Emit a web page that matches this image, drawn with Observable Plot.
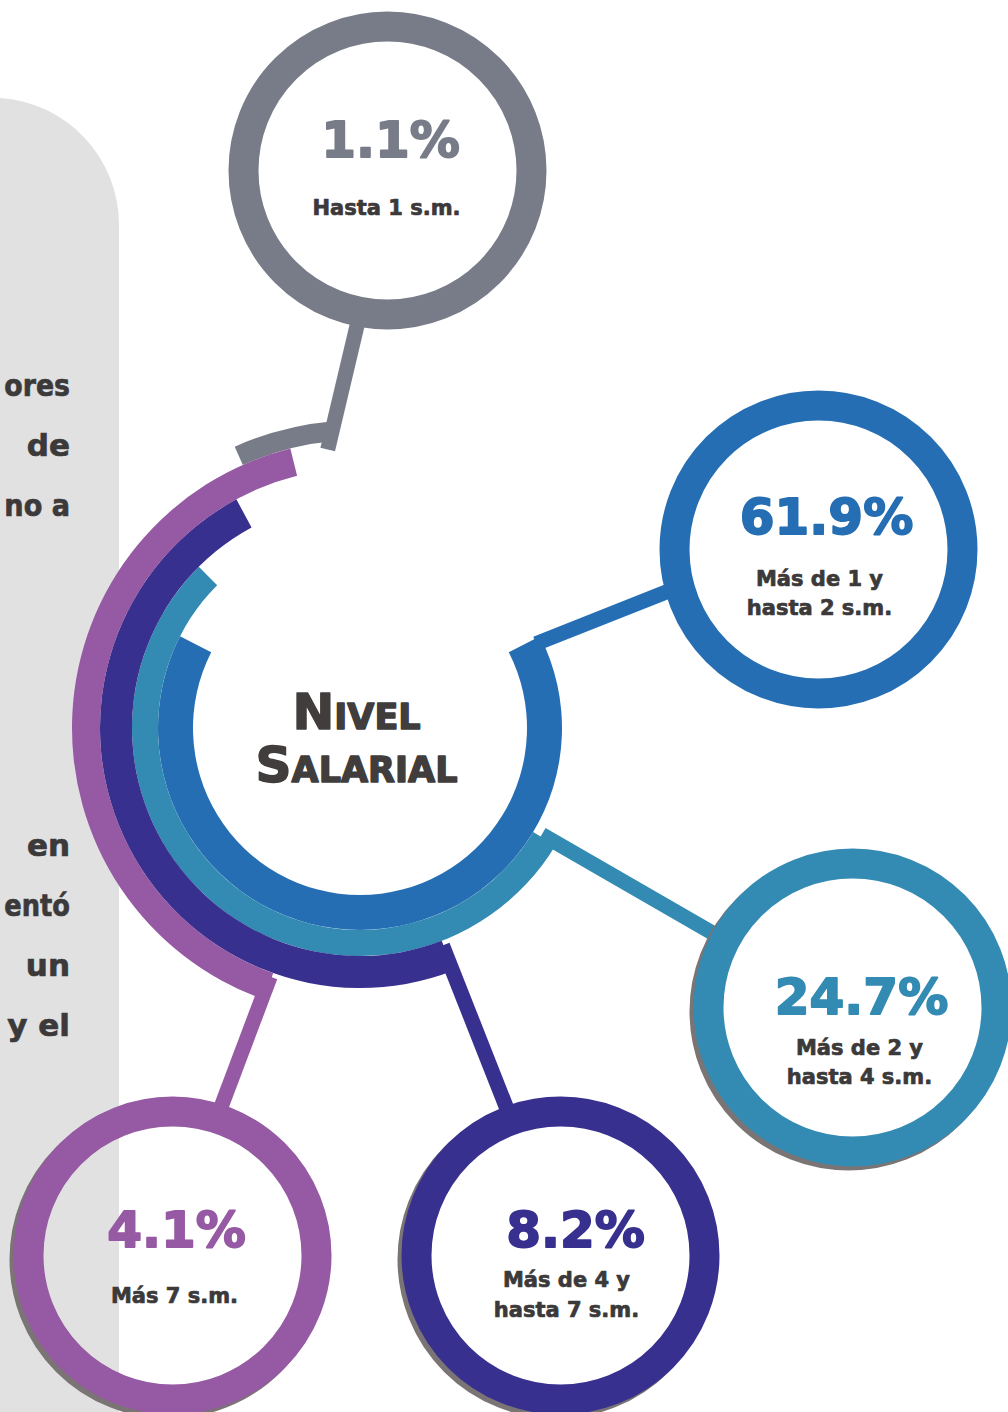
<!DOCTYPE html>
<html><head><meta charset="utf-8">
<script src="https://cdn.jsdelivr.net/npm/d3@7"></script>
<script src="https://cdn.jsdelivr.net/npm/@observablehq/plot@0.6"></script>
<style>
html,body{margin:0;padding:0;background:#fff;}
svg{display:block;}
g[aria-label="valores"] text{letter-spacing:4px;}
g[aria-label="etiquetas"] text{letter-spacing:0.6px;}
g[aria-label="titulo"] text{letter-spacing:3px;}
</style></head><body><div id="chart"></div>
<script>
// ---- data ----
const categorias = ["Hasta 1 s.m.", "Más de 1 y hasta 2 s.m.", "Más de 2 y hasta 4 s.m.", "Más de 4 y hasta 7 s.m.", "Más 7 s.m."];
const valores = [1.1, 61.9, 24.7, 8.2, 4.1];
const etiquetas = [["Hasta 1 s.m."], ["Más de 1 y", "hasta 2 s.m."], ["Más de 2 y", "hasta 4 s.m."], ["Más de 4 y", "hasta 7 s.m."], ["Más 7 s.m."]];
const colores = ["#787c88", "#256eb3", "#338bb3", "#37308f", "#9659a3"];
const titulo = ["Nivel", "Salarial"];
const textoLateral = ["ores", "de", "no a", "en", "entó", "un", "y el"];

// ---- layout (positions / sizes) ----
const W = 1008, H = 1412;
const centro = {x: 360, y: 728};
const anillos = [
  {r0: 288, r1: 308, a0: 336, a1: 355},
  {r0: 167, r1: 202, a0: 63, a1: 297},
  {r0: 202, r1: 228, a0: 121, a1: 315},
  {r0: 228, r1: 260, a0: 159, a1: 331.6},
  {r0: 260, r1: 288, a0: 199.5, a1: 346}
];
const burbujas = [
  {x: 387, y: 170, sombra: false},
  {x: 818, y: 549, sombra: false},
  {x: 852, y: 1007, sombra: true},
  {x: 560, y: 1255, sombra: true},
  {x: 172, y: 1255, sombra: true}
];
const conectores = [
  {a: 353.3, r: 281, b: 191},
  {a: 64.2, r: 195, b: 254.7},
  {a: 120.3, r: 210, b: 297.9},
  {a: 159.3, r: 232, b: 340},
  {a: 200, r: 264, b: 18}
];
const posTexto = [
  {nx: 390, ny: 140, lx: 386, ly: [208]},
  {nx: 826, ny: 517, lx: 819, ly: [579, 608]},
  {nx: 861, ny: 997, lx: 859, ly: [1048, 1077]},
  {nx: 575, ny: 1230, lx: 566, ly: [1280, 1310]},
  {nx: 176, ny: 1230, lx: 174, ly: [1296]}
];
const xLateral = 70;
const yLateral = [385, 445, 505, 845, 905, 965, 1025];
const yTitulo = [712, 765];

const rad = d => d * Math.PI / 180;
const polar = (cx, cy, deg, r) => [cx + r * Math.sin(rad(deg)), cy - r * Math.cos(rad(deg))];

const datos = categorias.map((c, i) => ({
  categoria: c, valor: valores[i],
  x: burbujas[i].x, y: burbujas[i].y, sombra: burbujas[i].sombra,
  nx: posTexto[i].nx, ny: posTexto[i].ny
}));
const lineasConector = categorias.map((c, i) => {
  const k = conectores[i];
  const [x1, y1] = polar(centro.x, centro.y, k.a, k.r);
  const [x2, y2] = polar(burbujas[i].x, burbujas[i].y, k.b, 150);
  return {categoria: c, x1, y1, x2, y2};
});
const lineasEtiqueta = etiquetas.flatMap((ls, i) => ls.map((t, j) => ({texto: t, x: posTexto[i].lx, y: posTexto[i].ly[j]})));

const FONT = "'DejaVu Sans', Verdana, sans-serif";
const OSCURO = "#3b3939";

// panel gris de fondo
const panel = (index, scales) => {
  const x = scales.x, y = scales.y;
  const g = d3.create("svg:g");
  g.append("path")
    .attr("d", `M${x(0)},${y(H)} L${x(0)},${y(98)} A127,127 0 0 1 ${x(119)},${y(225)} L${x(119)},${y(H)} Z`)
    .attr("fill", "#e1e1e1");
  return g.node();
};

// texto lateral (fragmentos alineados a la derecha; se comprimen si no caben)
const lateral = (index, scales) => {
  const g = d3.create("svg:g").attr("aria-label", "texto lateral");
  const ctx = document.createElement("canvas").getContext("2d");
  const size = 31;
  ctx.font = `bold ${size}px ${FONT}`;
  const x = scales.x(xLateral);
  textoLateral.forEach((t, i) => {
    const w = ctx.measureText(t).width + 1.5;
    const s = Math.min(1, (x - 3) / w);
    g.append("text")
      .attr("transform", `translate(${x},${scales.y(yLateral[i])}) scale(${s},1)`)
      .attr("text-anchor", "end")
      .attr("dy", "0.35em")
      .attr("font-family", FONT)
      .attr("font-size", size)
      .attr("font-weight", "bold")
      .attr("fill", OSCURO)
      .attr("stroke", OSCURO)
      .attr("stroke-width", 0.7)
      .attr("paint-order", "stroke")
      .text(t);
  });
  return g.node();
};

// arcos centrales
const arcos = (index, scales) => {
  const g = d3.create("svg:g");
  const cx = scales.x(centro.x), cy = scales.y(centro.y);
  const arc = d3.arc();
  categorias.forEach((c, i) => {
    const a = anillos[i];
    g.append("path")
      .attr("transform", `translate(${cx},${cy})`)
      .attr("d", arc({innerRadius: a.r0, outerRadius: a.r1, startAngle: rad(a.a0), endAngle: rad(a.a1)}))
      .attr("fill", scales.color(c));
  });
  return g.node();
};

const chart = Plot.plot({
  width: W, height: H,
  margin: 0,
  x: {domain: [0, W], range: [0, W], axis: null},
  y: {domain: [0, H], range: [0, H], axis: null},
  color: {domain: categorias, range: colores},
  style: {background: "#fff"},
  marks: [
    panel,
    lateral,
    Plot.link(lineasConector, {x1: "x1", y1: "y1", x2: "x2", y2: "y2", stroke: "categoria", strokeWidth: 15}),
    arcos,
    Plot.dot(datos.filter(d => d.sombra), {x: "x", y: "y", r: 149, dx: -4, dy: 4, stroke: "#7a7474", strokeWidth: 20, fill: "none"}),
    Plot.dot(datos, {x: "x", y: "y", r: 144, stroke: "categoria", strokeWidth: 30, fill: "none"}),
    Plot.text(datos, {x: "nx", y: "ny", text: d => d.valor.toFixed(1) + "%", fill: "categoria", stroke: "categoria",
      strokeWidth: 1.8, fontSize: 50, fontWeight: "bold", fontFamily: FONT, ariaLabel: "valores"}),
    Plot.text(lineasEtiqueta, {x: "x", y: "y", text: "texto", fill: OSCURO, stroke: OSCURO, strokeWidth: 0.7,
      fontSize: 21, fontWeight: "bold", fontFamily: FONT, ariaLabel: "etiquetas"}),
    Plot.text(titulo, {x: 356, y: (d, i) => yTitulo[i], text: d => d, fill: "#403d3c", stroke: "#403d3c", strokeWidth: 1.5,
      fontSize: 50, fontWeight: "bold", fontVariant: "small-caps", fontFamily: FONT, ariaLabel: "titulo"})
  ]
});
document.getElementById("chart").appendChild(chart);
</script></body></html>
